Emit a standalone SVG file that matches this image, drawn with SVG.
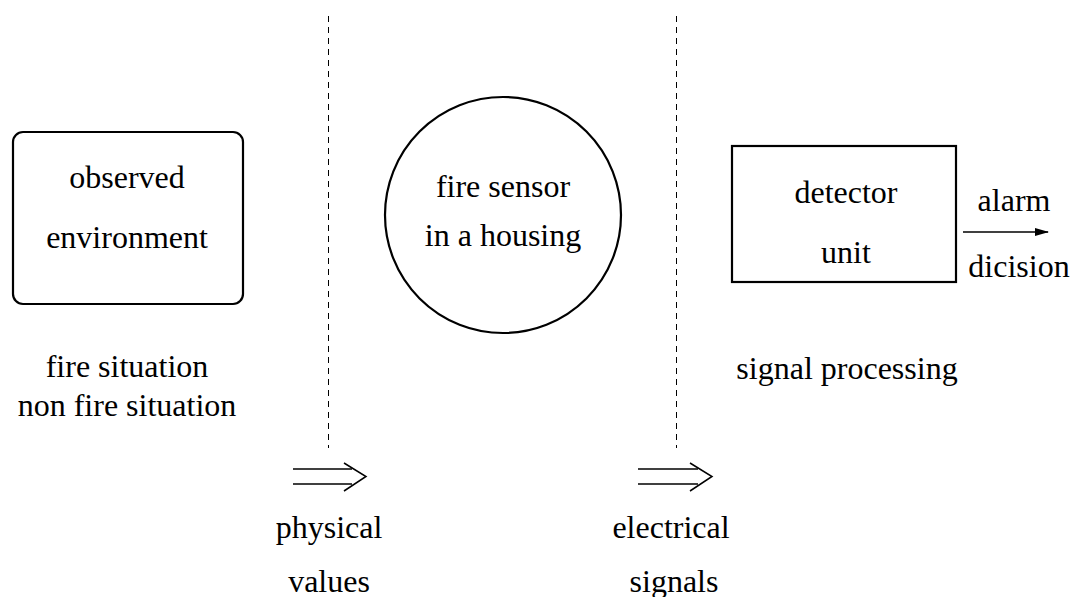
<svg xmlns="http://www.w3.org/2000/svg" width="1081" height="597" viewBox="0 0 1081 597">
<defs>
<style>
text{font-family:"Liberation Serif","Times New Roman",serif;font-size:32px;fill:#000;text-anchor:middle}
.shape{fill:none;stroke:#000;stroke-width:2.2}
.dash{stroke:#000;stroke-width:1;stroke-dasharray:6 5;fill:none}
.arr{stroke:#000;stroke-width:1.5;fill:none}
</style>
<marker id="ah" markerWidth="14" markerHeight="8" refX="13" refY="4" orient="auto" markerUnits="userSpaceOnUse">
<path d="M0,0 L14,4 L0,8 Z" fill="#000"/>
</marker>
</defs>
<rect width="1081" height="597" fill="#fff"/>
<g id="separators">
<line class="dash" x1="328.5" y1="16" x2="328.5" y2="448"/>
<line class="dash" x1="676.5" y1="16" x2="676.5" y2="448"/>
</g>
<g id="environment">
<rect class="shape" x="13" y="132" width="230" height="172" rx="10"/>
<text x="127" y="188">observed</text>
<text x="127" y="248">environment</text>
</g>
<g id="sensor">
<circle class="shape" cx="503" cy="215" r="118"/>
<text x="503" y="197">fire sensor</text>
<text x="503" y="246">in a housing</text>
</g>
<g id="detector">
<rect class="shape" x="732" y="146" width="224" height="136"/>
<text x="846" y="203">detector</text>
<text x="846" y="263">unit</text>
</g>
<g id="labels">
<text x="127" y="377">fire situation</text>
<text x="127" y="416">non fire situation</text>
<text x="847" y="379">signal processing</text>
<text x="329" y="538">physical</text>
<text x="329" y="592">values</text>
<text x="671" y="538">electrical</text>
<text x="674" y="592">signals</text>
<text x="1014" y="211">alarm</text>
<text x="1019" y="277">dicision</text>
</g>
<g id="connectors">
<line class="arr" x1="293" y1="469" x2="352" y2="469"/>
<line class="arr" x1="293" y1="484" x2="352" y2="484"/>
<polyline class="arr" points="344,463 366,476.5 344,491"/>
<line class="arr" x1="638" y1="469" x2="698" y2="469"/>
<line class="arr" x1="638" y1="484" x2="698" y2="484"/>
<polyline class="arr" points="690,463 712,476.5 690,491"/>
<line stroke="#000" stroke-width="1.3" x1="963" y1="232" x2="1048" y2="232" marker-end="url(#ah)"/>
</g>
</svg>
